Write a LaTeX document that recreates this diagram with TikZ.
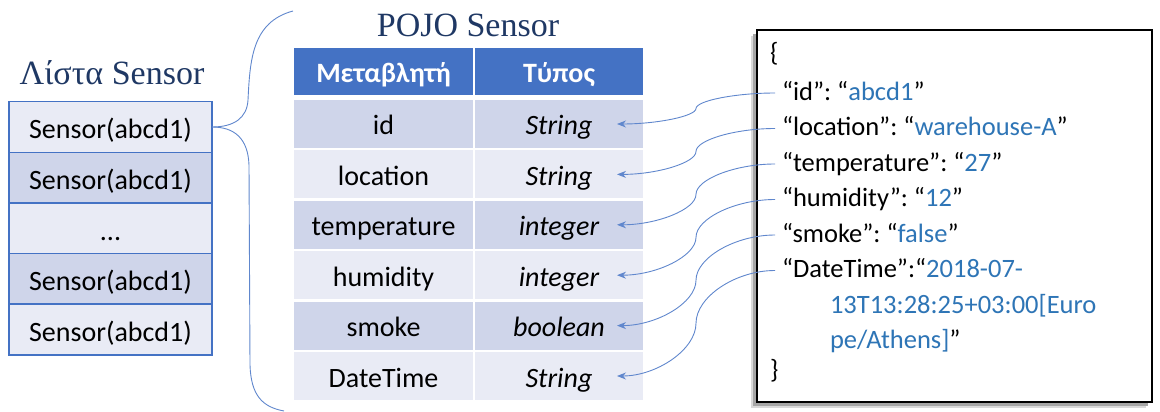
\documentclass[tikz,border=0pt]{standalone}
\usepackage{fontspec}
\setmainfont{Carlito}
\newfontfamily\titlefont{Liberation Serif}
\usetikzlibrary{arrows.meta,calc}
\definecolor{hblue}{HTML}{4472C4}
\definecolor{rowD}{HTML}{CFD5EA}
\definecolor{rowL}{HTML}{E9EBF5}
\definecolor{navy}{HTML}{1F3864}
\definecolor{valblue}{HTML}{2E75B6}
\frenchspacing
\begin{document}
\begin{tikzpicture}[x=1pt,y=-1pt,
 every node/.style={inner sep=0pt,outer sep=0pt},
 basefont/.style={font=\fontsize{28}{34}\selectfont},
 lcell/.style={basefont, draw=hblue, line width=1.6pt, minimum width=203pt, minimum height=50.6pt, text height=24pt, text depth=0pt},
 tcellL/.style={basefont, minimum width=179pt, minimum height=48pt, text height=22pt, text depth=0pt},
 tcellR/.style={font=\fontsize{28}{34}\selectfont\itshape, minimum width=168pt, minimum height=48pt, text height=22pt, text depth=0pt},
 hdr/.style={fill=hblue, text=white, font=\fontsize{28}{34}\selectfont\bfseries, minimum height=47pt, text height=22pt, text depth=0pt},
 jline/.style={anchor=base west, font=\fontsize{26.5}{32}\selectfont\frenchspacing, text height=18pt, text depth=4pt},
 curved/.style={to path={let \p1=(\tikztostart), \p2=(\tikztotarget) in
   .. controls ({0.75*\x1+0.25*\x2},\y1) and ({0.5*\x1+0.5*\x2},{0.75*\y1+0.25*\y2}) .. ({0.5*\x1+0.5*\x2},{0.5*\y1+0.5*\y2})
   .. controls ({0.5*\x1+0.5*\x2},{0.25*\y1+0.75*\y2}) and ({0.25*\x1+0.75*\x2},\y2) .. (\p2) \tikztonodes}},
 conn/.style={draw=hblue!85, line width=0.9pt, -{Stealth[length=9pt,width=7pt]}, curved},
 bracel/.style={draw=hblue!85, line width=0.9pt},
 titletext/.style={font=\titlefont\fontsize{34}{40}\selectfont, text=navy}
]
\useasboundingbox (0,0) rectangle (1160,412);

% ---- list of sensors ----
\node[titletext] (ltitle) at (112,73) {Λίστα Sensor};
\node[lcell, fill=rowL] (l1) at (110.5,127) {Sensor(abcd1)};
\node[lcell, fill=rowD] (l2) at (110.5,177.6) {Sensor(abcd1)};
\node[lcell, fill=rowL] (l3) at (110.5,228.2) {...};
\node[lcell, fill=rowD] (l4) at (110.5,278.8) {Sensor(abcd1)};
\node[lcell, fill=rowL] (l5) at (110.5,329.4) {Sensor(abcd1)};

% ---- brace ----
\draw[bracel] (l1.east) .. controls +(22,0) and (247,118) .. (248,100) .. controls (250,60) and (252,22) .. (293,11);
\draw[bracel] (l1.east) .. controls +(22,0) and (248,138) .. (249,165) -- (250,365) .. controls (251,395) and (262,407) .. (284,411);

% ---- POJO table ----
\node[titletext] (ptitle) at (468,25) {POJO Sensor};
\node[hdr, minimum width=179pt] (h1) at (383.5,71.5) {Μεταβλητή};
\node[hdr, minimum width=168pt] (h2) at (559,71.5) {Τύπος};

\node[tcellL, fill=rowD] (v1) at (383.5,124) {id};
\node[tcellR, fill=rowD] (t1) at (559,124) {String};
\node[tcellL, fill=rowL] (v2) at (383.5,174.4) {location};
\node[tcellR, fill=rowL] (t2) at (559,174.4) {String};
\node[tcellL, fill=rowD] (v3) at (383.5,224.8) {temperature};
\node[tcellR, fill=rowD] (t3) at (559,224.8) {integer};
\node[tcellL, fill=rowL] (v4) at (383.5,275.2) {humidity};
\node[tcellR, fill=rowL] (t4) at (559,275.2) {integer};
\node[tcellL, fill=rowD] (v5) at (383.5,325.6) {smoke};
\node[tcellR, fill=rowD] (t5) at (559,325.6) {boolean};
\node[tcellL, fill=rowL] (v6) at (383.5,376) {DateTime};
\node[tcellR, fill=rowL] (t6) at (559,376) {String};

% ---- JSON box ----
\fill[black!15] (751,36) rectangle (1146,408);
\fill[black!35] (753,34) rectangle (1148,406);
\node[draw=black, line width=2pt, fill=white, minimum width=395pt, minimum height=372pt] (jbox) at (954.5,216) {};

\node[jline] (j0) at (770,62) {\{};
\node[jline] (j1) at (782,100) {“id”: “\textcolor{valblue}{abcd1}”};
\node[jline] (j2) at (782,135.5) {“location”: “\textcolor{valblue}{warehouse-A}”};
\node[jline] (j3) at (782,171) {“temperature”: “\textcolor{valblue}{27}”};
\node[jline] (j4) at (782,206.5) {“humidity”: “\textcolor{valblue}{12}”};
\node[jline] (j5) at (782,242) {“smoke”: “\textcolor{valblue}{false}”};
\node[jline] (j6) at (782,277.5) {“DateTime”:“\textcolor{valblue}{2018-07-}};
\node[jline] (j7) at (830,313) {\textcolor{valblue}{13T13:28:25+03:00[Euro}};
\node[jline] (j8) at (830,348.5) {\textcolor{valblue}{pe/Athens]}”};
\node[jline] (j9) at (770,378) {\}};

% ---- connectors ----
\draw[conn] ([xshift=-7pt]j1.west) to ([xshift=-26pt]t1.east);
\draw[conn] ([xshift=-7pt]j2.west) to ([xshift=-26pt]t2.east);
\draw[conn] ([xshift=-7pt]j3.west) to ([xshift=-26pt]t3.east);
\draw[conn] ([xshift=-7pt]j4.west) to ([xshift=-26pt]t4.east);
\draw[conn] ([xshift=-7pt]j5.west) to ([xshift=-26pt]t5.east);
\draw[conn] ([xshift=-7pt]j6.west) to ([xshift=-26pt]t6.east);
\end{tikzpicture}
\end{document}
